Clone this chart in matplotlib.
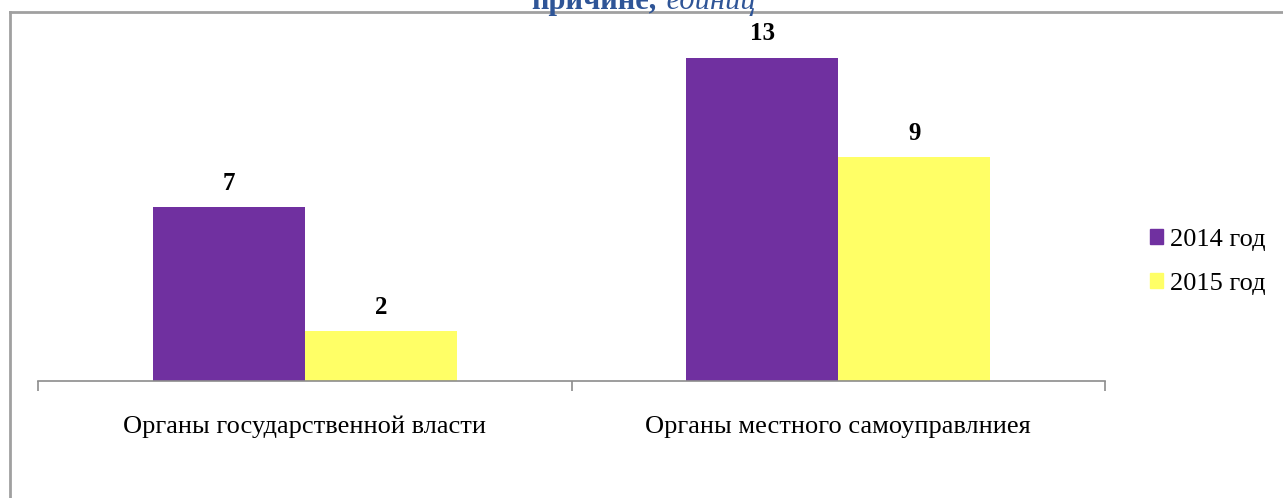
import matplotlib.pyplot as plt
from matplotlib.patches import Patch
import numpy as np

categories = ['Органы государственной власти', 'Органы местного самоуправлниея']
series_names = ['2014 год', '2015 год']
values_2014 = [7, 13]
values_2015 = [2, 9]
colors = ['#7030A0', '#FFFF66']

plt.rcParams['font.family'] = ['Liberation Serif', 'DejaVu Serif']

W, H = 1283, 498
fig = plt.figure(figsize=(W / 100, H / 100), dpi=100)

# outer frame (only top and left visible in the source)
fig.add_artist(plt.Line2D([10 / W, 1], [1 - 12 / H, 1 - 12 / H], color='#a0a0a0', lw=2))
fig.add_artist(plt.Line2D([10 / W, 10 / W], [0, 1 - 12 / H], color='#a0a0a0', lw=2))

# cut-off title at the top
fig.text(657 / W, 1 - 9 / H, 'причине,', ha='right', va='baseline', fontsize=22,
         fontweight='bold', color='#2F5597')
fig.text(659 / W, 1 - 9 / H, ' единиц', ha='left', va='baseline', fontsize=22,
         fontstyle='italic', color='#2F5597')

ax = fig.add_axes([38 / W, (H - 381) / H, (1105 - 38) / W, (381 - 14) / H])
x = np.arange(len(categories))
w = 0.285
b1 = ax.bar(x - w / 2, values_2014, w, color=colors[0])
b2 = ax.bar(x + w / 2, values_2015, w, color=colors[1])
for bars in (b1, b2):
    for r in bars:
        ax.annotate(str(int(r.get_height())), (r.get_x() + r.get_width() / 2, r.get_height()),
                    xytext=(0, 9), textcoords='offset points', ha='center', va='bottom',
                    fontsize=18, fontweight='bold')

ax.set_xlim(-0.5, 1.5)
ax.set_ylim(0, 367 / 24.85)
for s in ['top', 'right', 'left']:
    ax.spines[s].set_visible(False)
ax.spines['bottom'].set_color('#8c8c8c')
ax.spines['bottom'].set_linewidth(1.2)
ax.set_yticks([])
ax.set_xticks([-0.5, 0.5, 1.5], minor=False)
ax.set_xticklabels([])
ax.tick_params(axis='x', direction='out', length=7, color='#8c8c8c', width=1.2)
ax.set_xticks(x, minor=True)
ax.set_xticklabels(categories, minor=True, fontsize=19)
ax.tick_params(axis='x', which='minor', length=0, pad=25)
ax.patch.set_alpha(0)

handles = [Patch(color=c) for c in colors]
fig.legend(handles, series_names, loc='center left', bbox_to_anchor=(1137 / W, 1 - 262 / H),
           frameon=False, fontsize=19, handlelength=0.5, handleheight=0.5,
           handletextpad=0.25, labelspacing=0.85, borderpad=0)

fig.savefig('out.png', dpi=100)
